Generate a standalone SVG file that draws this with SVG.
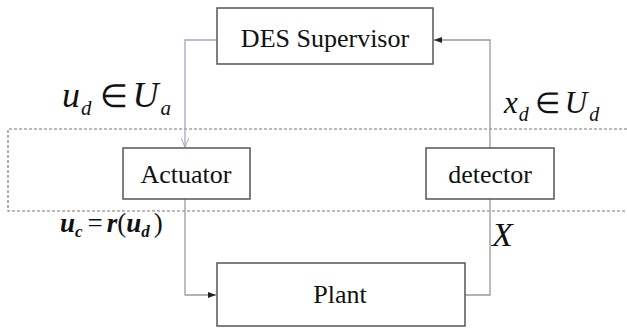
<svg xmlns="http://www.w3.org/2000/svg" width="627" height="329" viewBox="0 0 627 329">
<defs>
<marker id="ah" markerWidth="8" markerHeight="6" refX="8" refY="3" orient="auto" markerUnits="userSpaceOnUse">
<path d="M0,0 L8,3 L0,6 Z" fill="#222"/>
</marker>
<marker id="ahl" markerWidth="10" markerHeight="8" refX="9" refY="4" orient="auto" markerUnits="userSpaceOnUse">
<path d="M0,0 L9,4 L0,8" fill="none" stroke="#a9a3c9" stroke-width="1"/>
</marker>
<style>
.box{fill:#fff;stroke:#555;stroke-width:1.5}
.lbl{font-size:26px;fill:#111;text-anchor:middle}
.m{font-style:italic;fill:#111}
.c{fill:none;stroke:#9a9a9a;stroke-width:1.3}
.dash{fill:none;stroke:#777;stroke-width:1.2;stroke-dasharray:3 2}
</style>
</defs>
<rect width="627" height="329" fill="#fff"/>
<path class="dash" d="M627,129 H8 V211 H627"/>
<g id="connectors">
<path d="M217,40 H185 V147" fill="none" stroke="#a9a3c9" stroke-width="1.3" marker-end="url(#ahl)"/>
<path class="c" d="M490,148 V40 H434" marker-end="url(#ah)"/>
<path class="c" d="M185,199 V295 H216" marker-end="url(#ah)"/>
<path class="c" d="M490,199 V295 H465"/>
</g>
<g id="supervisor">
<rect class="box" x="217" y="8" width="216" height="56"/>
<text class="lbl" font-family="'Liberation Serif', serif" x="325" y="47">DES Supervisor</text>
</g>
<g id="actuator">
<rect class="box" x="123" y="148" width="127" height="51"/>
<text class="lbl" font-family="'Liberation Serif', serif" x="186" y="183">Actuator</text>
</g>
<g id="detector">
<rect class="box" x="426" y="148" width="128" height="51"/>
<text class="lbl" font-family="'Liberation Serif', serif" x="490" y="183">detector</text>
</g>
<g id="plant">
<rect class="box" x="217" y="263" width="248" height="63"/>
<text class="lbl" font-family="'Liberation Serif', serif" x="340" y="303">Plant</text>
</g>
<g id="labels" font-family="'Liberation Serif', serif">
<text class="m" x="62" y="107" font-size="36">u<tspan font-size="21" dy="8" dx="1">d</tspan><tspan font-style="normal" font-size="32" dy="-8" dx="8">∈</tspan><tspan dx="5">U</tspan><tspan font-size="21" dy="8" dx="2">a</tspan></text>
<text class="m" x="504" y="113" font-size="31">x<tspan font-size="20" dy="8" dx="1">d</tspan><tspan font-style="normal" font-size="29" dy="-8" dx="6">∈</tspan><tspan dx="5">U</tspan><tspan font-size="20" dy="8" dx="2">d</tspan></text>
<text class="m" x="60" y="232" font-size="27" font-weight="600">u<tspan font-size="17" dy="5">c</tspan><tspan font-style="normal" font-weight="normal" dy="-5" dx="5">=</tspan><tspan dx="4">r</tspan><tspan font-style="normal" font-weight="normal">(</tspan>u<tspan font-size="17" dy="5">d</tspan><tspan font-style="normal" font-weight="normal" dy="-5" dx="4">)</tspan></text>
<text class="m" x="492" y="246" font-size="34">X</text>
</g>
</svg>
